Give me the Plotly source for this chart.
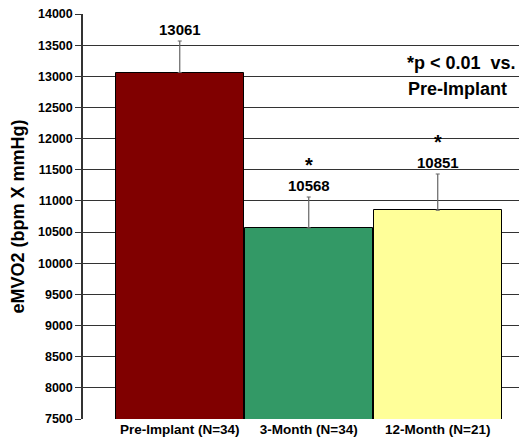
import plotly.graph_objects as go

categories = ["Pre-Implant (N=34)", "3-Month (N=34)", "12-Month (N=21)"]
values = [13061, 10568, 10851]
errors = [506, 495, 581]
significant = [False, True, True]
colors = ["#800000", "#339966", "#FFFF99"]
y_ticks = list(range(7500, 14001, 500))

FONT = "Liberation Sans, Arial, sans-serif"

fig = go.Figure()
fig.add_trace(go.Bar(
    x=categories, y=values, width=0.99,
    marker=dict(color=colors, line=dict(color="#000000", width=1)),
    error_y=dict(type="data", symmetric=False, array=errors,
                 arrayminus=[0] * len(errors), color="#666666",
                 thickness=1.2, width=2),
    showlegend=False, hoverinfo="x+y",
))

annotations = []
for c, v, e, s in zip(categories, values, errors, significant):
    annotations.append(dict(x=c, y=v + e, xref="x", yref="y", text="<b>%d</b>" % v,
                            showarrow=False, yanchor="bottom", yshift=1,
                            font=dict(family=FONT, size=15, color="#000")))
    if s:
        annotations.append(dict(x=c, y=v + e, xref="x", yref="y", text="<b>*</b>",
                                showarrow=False, yanchor="bottom", yshift=19,
                                font=dict(family=FONT, size=20, color="#000")))

px_w = 519 - 83
px_h = 442 - 14 - 23
def fx(px):
    return (px - 83) / px_w
def fy(py):
    return 1 - (py - 14) / px_h

annotations += [
    dict(x=fx(518), y=fy(63), xref="paper", yref="paper", text="<b>*p &lt; 0.01  vs.</b>",
         showarrow=False, xanchor="right", yanchor="middle",
         font=dict(family=FONT, size=18, color="#000")),
    dict(x=fx(509), y=fy(89), xref="paper", yref="paper", text="<b>Pre-Implant</b>",
         showarrow=False, xanchor="right", yanchor="middle",
         font=dict(family=FONT, size=18, color="#000")),
    dict(x=fx(134), y=fy(-1), xref="paper", yref="paper", text="<b>Oxygen Consumption</b>",
         showarrow=False, xanchor="left", yanchor="bottom", yshift=-1,
         font=dict(family=FONT, size=20, color="#000")),
]

fig.update_layout(
    width=519, height=442,
    margin=dict(l=83, r=0, t=14, b=23),
    paper_bgcolor="white", plot_bgcolor="white",
    bargap=0,
    font=dict(family=FONT, color="#000"),
    xaxis=dict(type="category", range=[-0.75, 2.63], showgrid=False,
               showline=False, ticks="", zeroline=False,
               tickvals=categories,
               ticktext=["<b>%s</b>" % c for c in categories],
               tickfont=dict(family=FONT, size=13.5, color="#000")),
    yaxis=dict(range=[7500, 14000], tickvals=y_ticks,
               ticktext=["<b>%d</b>" % t for t in y_ticks],
               showgrid=True, gridcolor="#333333", gridwidth=1,
               showline=True, linecolor="#333333", linewidth=1.5,
               ticks="outside", ticklen=6, tickcolor="#333333",
               zeroline=False,
               tickfont=dict(family=FONT, size=12.5, color="#000"),
               title=dict(text="<b>eMVO2 (bpm X mmHg)</b>",
                          font=dict(family=FONT, size=18, color="#000"),
                          standoff=9)),
    annotations=annotations,
)

fig.write_html("out.html", config={"displayModeBar": False})
with open("out.html", "r", encoding="utf-8") as f:
    html = f.read()
html = html.replace("<body>", '<body style="margin:0;overflow:hidden">', 1)
with open("out.html", "w", encoding="utf-8") as f:
    f.write(html)
